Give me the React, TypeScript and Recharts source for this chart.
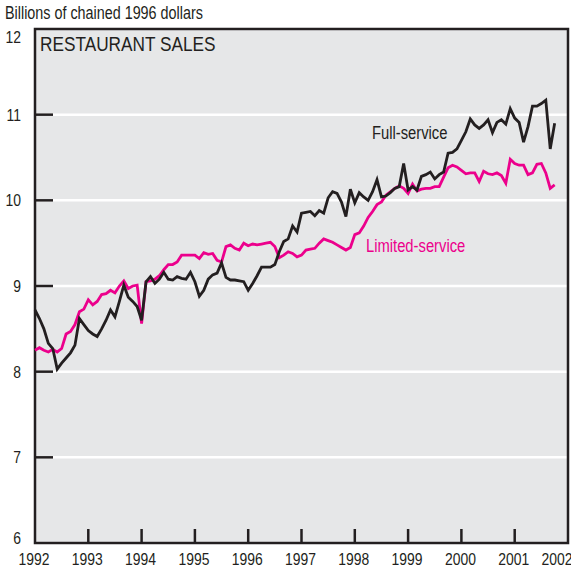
import * as React from "react";
import { CartesianGrid, Line, LineChart, ReferenceArea, XAxis, YAxis } from "recharts";

// Monthly restaurant sales, Jan 1992 - Oct 2001 (billions of chained 1996 dollars)
const START_YEAR = 1992;

const FULL_SERVICE = [
  8.72, 8.62, 8.5, 8.33, 8.27, 8.03, 8.1, 8.16, 8.22, 8.31, 8.62, 8.55,
  8.48, 8.44, 8.41, 8.5, 8.6, 8.72, 8.64, 8.82, 9.01, 8.87, 8.82, 8.76,
  8.6, 9.05, 9.11, 9.03, 9.08, 9.16, 9.08, 9.07, 9.11, 9.09, 9.08, 9.16,
  9.05, 8.88, 8.95, 9.08, 9.13, 9.15, 9.27, 9.1, 9.07, 9.07, 9.06, 9.05,
  8.95, 9.03, 9.12, 9.22, 9.22, 9.22, 9.25, 9.4, 9.52, 9.55, 9.7, 9.63,
  9.85, 9.86, 9.87, 9.82, 9.88, 9.85, 10.03, 10.1, 10.08, 9.98, 9.81, 10.13,
  9.97, 10.09, 10.04, 10.0, 10.1, 10.24, 10.04, 10.05, 10.09, 10.14, 10.16, 10.43,
  10.12, 10.16, 10.12, 10.28, 10.3, 10.33, 10.25, 10.3, 10.33, 10.55, 10.56, 10.6,
  10.7, 10.8, 10.95, 10.88, 10.84, 10.88, 10.94, 10.79, 10.91, 10.94, 10.89, 11.07,
  10.96, 10.91, 10.68, 10.86, 11.1, 11.1, 11.13, 11.17, 10.6, 10.9,
];

const LIMITED_SERVICE = [
  8.25, 8.28, 8.25, 8.23, 8.26, 8.23, 8.27, 8.44, 8.47, 8.55, 8.7, 8.73,
  8.84, 8.78, 8.82, 8.9, 8.91, 8.95, 8.92, 9.0, 9.06, 8.97, 9.0, 9.01,
  8.56, 9.05, 9.06, 9.08, 9.12, 9.19, 9.25, 9.25, 9.28, 9.36, 9.36, 9.36,
  9.36, 9.32, 9.39, 9.37, 9.38, 9.3, 9.28, 9.46, 9.48, 9.44, 9.42, 9.5,
  9.47, 9.49, 9.48, 9.49, 9.5, 9.51, 9.46, 9.33, 9.36, 9.4, 9.38, 9.34,
  9.36, 9.42, 9.43, 9.44, 9.5, 9.55, 9.53, 9.51, 9.48, 9.45, 9.42, 9.45,
  9.6, 9.62, 9.7, 9.8, 9.87, 9.95, 9.98, 10.06, 10.1, 10.14, 10.17, 10.14,
  10.08, 10.19, 10.11, 10.13, 10.14, 10.14, 10.16, 10.16, 10.27, 10.38, 10.41, 10.39,
  10.35, 10.31, 10.32, 10.32, 10.22, 10.34, 10.31, 10.3, 10.32, 10.29, 10.2, 10.48,
  10.43, 10.41, 10.41, 10.3, 10.32, 10.42, 10.43, 10.32, 10.14, 10.18,
];

const YEAR_TICKS = [1992, 1993, 1994, 1995, 1996, 1997, 1998, 1999, 2000, 2001, 2002];
const VALUE_TICKS = [6, 7, 8, 9, 10, 11, 12];

const data = FULL_SERVICE.map((v, i) => ({
  t: START_YEAR + i / 12,
  full: v,
  limited: LIMITED_SERVICE[i],
}));

const INK = "#231f20";
const MAGENTA = "#ec008c";
const FONT = "'Liberation Sans', Arial, sans-serif";
const SQUEEZE = 0.82; // the original uses a condensed face

function YearTick({ x, y, payload }: any) {
  const last = payload.value === 2002;
  return (
    <g>
      {!last && payload.value !== 1992 && (
        <line x1={x} x2={x} y1={y - 8} y2={y - 22} stroke={INK} strokeWidth={2.5} />
      )}
      <g transform={`translate(${last ? x - 11 : x - 1},${y + 14}) scale(${SQUEEZE},1)`}>
        <text x={0} y={0} textAnchor="middle" fill={INK} fontSize={17} fontFamily={FONT}>
          {payload.value}
        </text>
      </g>
    </g>
  );
}

function ValueTick({ x, y, payload }: any) {
  const v = payload.value;
  const inner = v > 6 && v < 12;
  const dy = v === 12 ? 14 : v === 6 ? 1 : 6;
  return (
    <g>
      {inner && <line x1={x + 14} x2={x + 32} y1={y} y2={y} stroke={INK} strokeWidth={2.5} />}
      <g transform={`translate(${x},${y + dy}) scale(${SQUEEZE},1)`}>
        <text x={0} y={0} textAnchor="end" fill={INK} fontSize={17} fontFamily={FONT}>
          {v}
        </text>
      </g>
    </g>
  );
}

const note = (left: number, top: number, size: number, color = INK): React.CSSProperties => ({
  position: "absolute",
  left,
  top,
  fontSize: size,
  color,
  whiteSpace: "nowrap",
  transform: `scaleX(${SQUEEZE})`,
  transformOrigin: "0 0",
});

export default function App() {
  return (
    <div
      style={{
        position: "absolute",
        left: 0,
        top: 0,
        width: 571,
        height: 571,
        background: "#fff",
        fontFamily: FONT,
        color: INK,
        overflow: "hidden",
      }}
    >
      <LineChart width={571} height={571} data={data} margin={{ top: 29, right: 3, bottom: 0, left: 0 }}>
        <CartesianGrid vertical={false} stroke="#fff" strokeWidth={2.5} fill="#e6e7e8" />
        <XAxis
          dataKey="t"
          type="number"
          domain={[1992, 2002]}
          ticks={YEAR_TICKS}
          axisLine={false}
          tickLine={false}
          tickSize={0}
          tickMargin={8}
          tick={<YearTick />}
          height={28}
          interval={0}
        />
        <YAxis
          type="number"
          domain={[6, 12]}
          ticks={VALUE_TICKS}
          axisLine={false}
          tickLine={false}
          tickSize={0}
          tickMargin={14}
          tick={<ValueTick />}
          width={35}
          interval={0}
        />
        <Line
          type="linear"
          dataKey="limited"
          stroke={MAGENTA}
          strokeWidth={2.8}
          dot={false}
          isAnimationActive={false}
        />
        <Line
          type="linear"
          dataKey="full"
          stroke={INK}
          strokeWidth={2.8}
          dot={false}
          isAnimationActive={false}
        />
        <ReferenceArea x1={1992} x2={2002} y1={6} y2={12} fill="none" stroke={INK} strokeWidth={2.5} ifOverflow="extendDomain" />
      </LineChart>
      <div style={note(5, 3, 17.5)}>Billions of chained 1996 dollars</div>
      <div style={note(40, 32, 21)}>RESTAURANT SALES</div>
      <div style={note(372, 123, 18)}>Full-service</div>
      <div style={note(366, 236, 18, MAGENTA)}>Limited-service</div>
    </div>
  );
}
